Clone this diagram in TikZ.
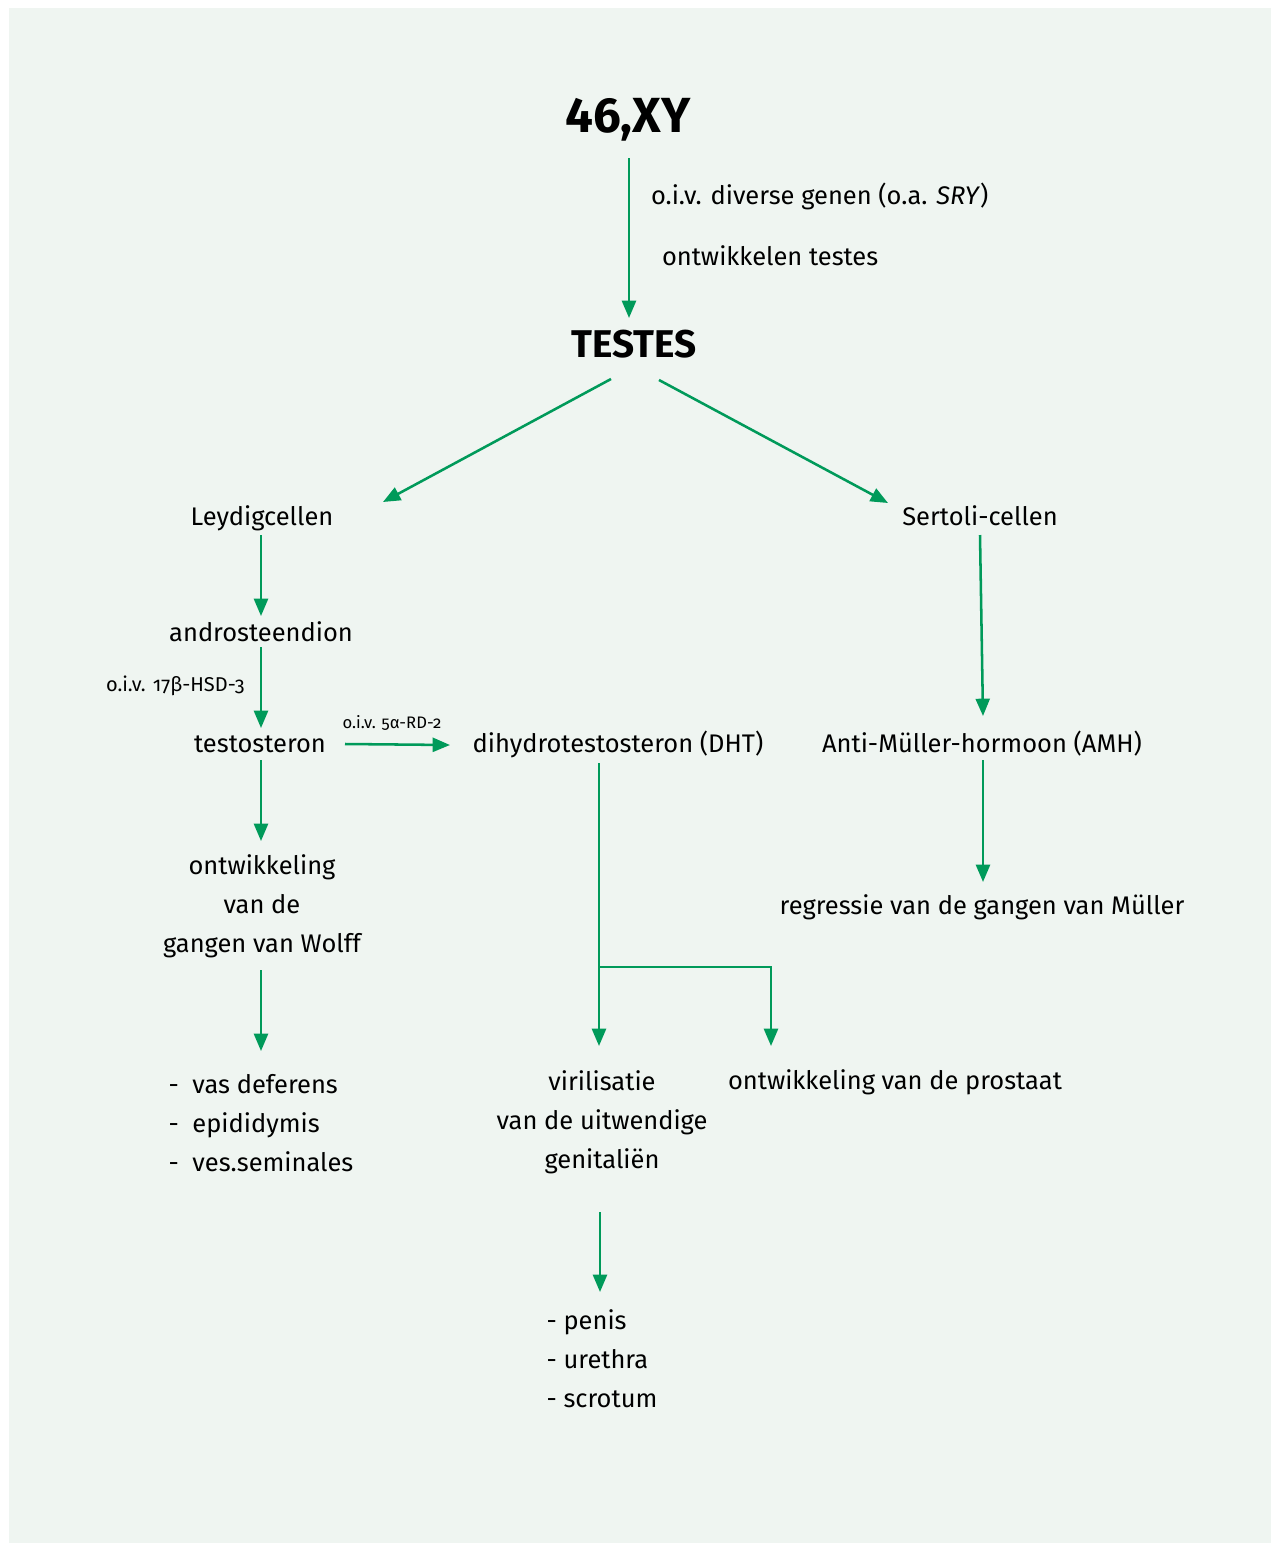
\documentclass[tikz,border=0pt]{standalone}
\usepackage{fontspec}
\setmainfont{Fira Sans}
\usetikzlibrary{arrows.meta,calc}
\definecolor{bgc}{RGB}{239,245,241}
\definecolor{grn}{RGB}{0,154,90}
\tikzset{
  txt/.style={inner sep=0pt, outer sep=0pt, font=\fontsize{19.1}{29.25}\selectfont, align=center},
  lst/.style={inner sep=0pt, outer sep=0pt, font=\fontsize{19.1}{29.25}\selectfont, align=left},
  big/.style={inner sep=0pt, outer sep=0pt, font=\bfseries\fontsize{37}{44}\selectfont},
  mid/.style={inner sep=0pt, outer sep=0pt, font=\bfseries\fontsize{29}{35}\selectfont},
  sml/.style={inner sep=0pt, outer sep=0pt, font=\fontsize{15}{17}\selectfont\addfontfeatures{Numbers=OldStyle}},
  tny/.style={inner sep=0pt, outer sep=0pt, font=\fontsize{12.5}{15}\selectfont\addfontfeatures{Numbers=OldStyle}},
  arr/.style={draw=grn, line width=1.9pt, -{Triangle[length=13pt,width=10.5pt]}},
}
\begin{document}
\begin{tikzpicture}[x=0.75pt,y=-0.75pt]
\useasboundingbox (0,0) rectangle (1271,1543);
\fill[bgc] (9,8) rectangle (1271,1543);

\node[big] (xy) at (628,120) {46,XY};
\node[txt, anchor=west] (lab1) at (651,196) {o.i.v. diverse genen (o.a. \textit{SRY})};
\node[txt, anchor=west] (lab2) at (662,256) {ontwikkelen testes};
\node[mid] (testes) at (634,344) {TESTES};
\node[txt] (leydig) at (262,518) {Leydigcellen};
\node[txt] (sertoli) at (980,516) {Sertoli-cellen};
\node[txt] (andro) at (261,632) {androsteendion};
\node[sml, anchor=west] (lab17) at (106,686) {o.i.v. 17β-HSD-3};
\node[txt] (testo) at (260,744) {testosteron};
\node[tny] (lab5a) at (392,723) {o.i.v. 5α-RD-2};
\node[txt] (dht) at (618,744) {dihydrotestosteron (DHT)};
\node[txt] (amh) at (982,744) {Anti-Müller-hormoon (AMH)};
\node[txt] (wolff) at (262,906) {ontwikkeling\\van de\\gangen van Wolff};
\node[txt] (regr) at (982,907) {regressie van de gangen van Müller};
\node[lst] (list1) at (261,1123) {-\ \ vas deferens\\-\ \ epididymis\\-\ \ ves.seminales};
\node[txt] (viril) at (602,1122) {virilisatie\\van de uitwendige\\genitaliën};
\node[txt] (prost) at (895,1082) {ontwikkeling van de prostaat};
\node[lst] (list2) at (602,1359) {- penis\\- urethra\\- scrotum};

\draw[arr] ($(xy)+(1,38)$) -- ($(testes)+(-5,-26)$);
\draw[arr] ($(testes)+(-23,35)$) -- ($(leydig)+(121,-16)$);
\draw[arr] ($(testes)+(25,36)$) -- ($(sertoli)+(-92,-13)$);
\draw[arr] ($(leydig)+(-1,17)$) -- ($(andro)+(0,-16)$);
\draw[arr] ($(andro)+(0,15)$) -- ($(testo)+(1,-16)$);
\draw[arr] ($(testo)+(85,0)$) -- ($(dht)+(-168,1)$);
\draw[arr] ($(sertoli)+(0,19)$) -- ($(amh)+(1,-28)$);
\draw[arr] ($(amh)+(1,16)$) -- ($(regr)+(1,-25)$);
\draw[arr] ($(testo)+(1,16)$) -- ($(wolff)+(-1,-65)$);
\draw[arr] ($(wolff)+(-1,64)$) -- ($(list1)+(0,-72)$);
\draw[arr] ($(dht)+(-19,19)$) -- ($(viril)+(-3,-76)$);
\draw[arr] ($(dht)+(-19,223)$) -| ($(prost)+(-124,-36)$);
\draw[arr] ($(viril)+(-2,90)$) -- ($(list2)+(-2,-67)$);
\end{tikzpicture}
\end{document}
